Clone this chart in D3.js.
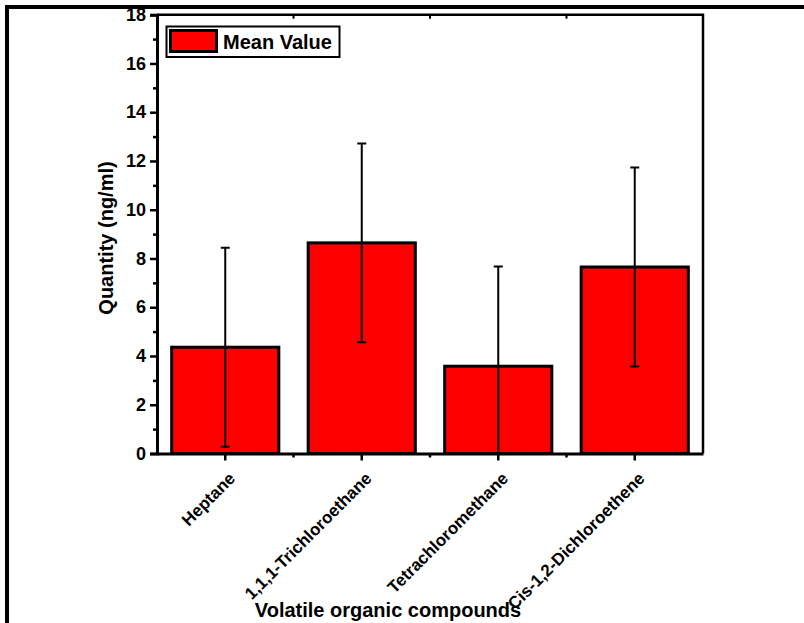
<!DOCTYPE html>
<html>
<head>
<meta charset="utf-8">
<script src="https://cdn.jsdelivr.net/npm/d3@7"></script>
<style>
  body { margin: 0; background: #fff; }
  svg text { font-family: "Liberation Sans", Arial, sans-serif; font-weight: bold; fill: #000; }
</style>
</head>
<body>
<div class="chart"></div>
<script>
// Données
const compounds = ['Heptane', '1,1,1-Trichloroethane', 'Tetrachloromethane', 'Cis-1,2-Dichloroethene']
const meanValues = [4.36, 8.64, 3.58, 7.65]
const sdValues = [4.08, 4.08, 4.09, 4.08]
const yTicks = [0, 2, 4, 6, 8, 10, 12, 14, 16, 18]
const yMinorTicks = [1, 3, 5, 7, 9, 11, 13, 15, 17]

const data = compounds.map((name, i) => ({ name: name, mean: meanValues[i], sd: sdValues[i] }))

// Dimensions
const width = 804,
    height = 623
const plot = { left: 157, right: 703, top: 14.7, bottom: 453.5 }

const svg = d3.select('.chart')
    .append('svg')
    .attr('width', width)
    .attr('height', height)

// Cadre extérieur (haut + gauche)
svg.append('path')
    .attr('d', `M 7 ${height} V 7 H ${width}`)
    .attr('fill', 'none')
    .attr('stroke', '#000')
    .attr('stroke-width', 4)

// Echelles
const x = d3.scaleBand()
    .domain(compounds)
    .range([plot.left, plot.right])
    .paddingInner(0.215)
    .paddingOuter(0.1075)

const y = d3.scaleLinear()
    .domain([0, 18])
    .range([plot.bottom, plot.top])

// Zone de clip pour les barres d'erreur
svg.append('clipPath')
    .attr('id', 'clip')
    .append('rect')
    .attr('x', plot.left)
    .attr('y', plot.top)
    .attr('width', plot.right - plot.left)
    .attr('height', plot.bottom - plot.top)

// Barres
svg.append('g')
    .selectAll('rect')
    .data(data)
    .join('rect')
    .attr('x', d => x(d.name))
    .attr('y', d => y(d.mean))
    .attr('width', x.bandwidth())
    .attr('height', d => y(0) - y(d.mean))
    .attr('fill', '#ff0000')
    .attr('stroke', '#000')
    .attr('stroke-width', 3)

// Barres d'erreur
const cx = d => x(d.name) + x.bandwidth() / 2
const err = svg.append('g').attr('clip-path', 'url(#clip)')
err.selectAll('.err-line')
    .data(data)
    .join('line')
    .attr('x1', cx)
    .attr('x2', cx)
    .attr('y1', d => y(d.mean + d.sd))
    .attr('y2', d => y(d.mean - d.sd))
    .attr('stroke', '#000')
    .attr('stroke-width', 2)
err.selectAll('.cap-top')
    .data(data)
    .join('line')
    .attr('x1', d => cx(d) - 4.5)
    .attr('x2', d => cx(d) + 4.5)
    .attr('y1', d => y(d.mean + d.sd))
    .attr('y2', d => y(d.mean + d.sd))
    .attr('stroke', '#000')
    .attr('stroke-width', 2)
err.selectAll('.cap-bottom')
    .data(data)
    .join('line')
    .attr('x1', d => cx(d) - 4.5)
    .attr('x2', d => cx(d) + 4.5)
    .attr('y1', d => y(d.mean - d.sd))
    .attr('y2', d => y(d.mean - d.sd))
    .attr('stroke', '#000')
    .attr('stroke-width', 2)

// Cadre du graphe (haut + droite)
svg.append('path')
    .attr('d', `M ${plot.left} ${plot.top} H ${plot.right} V ${plot.bottom}`)
    .attr('fill', 'none')
    .attr('stroke', '#000')
    .attr('stroke-width', 2.5)

// Graduations secondaires en x (entre les catégories)
const minorX = compounds.slice(1).map(c => x(c) - x.step() * x.paddingInner() / 2)

// Petites graduations en haut
svg.append('g')
    .selectAll('line')
    .data(minorX)
    .join('line')
    .attr('x1', d => d)
    .attr('x2', d => d)
    .attr('y1', plot.top)
    .attr('y2', plot.top + 4)
    .attr('stroke', '#000')
    .attr('stroke-width', 2)

// Axe Y
const yAxis = svg.append('g')
    .attr('transform', `translate(${plot.left}, 0)`)
    .call(d3.axisLeft(y).tickValues(yTicks).tickSize(7).tickPadding(4))
yAxis.select('.domain').attr('stroke-width', 3)
yAxis.selectAll('.tick line').attr('stroke-width', 2.5)
yAxis.selectAll('.tick text').style('font-size', '18px')

svg.append('g')
    .attr('transform', `translate(${plot.left}, 0)`)
    .call(d3.axisLeft(y).tickValues(yMinorTicks).tickSize(4).tickFormat(''))
    .call(g => g.select('.domain').remove())
    .selectAll('.tick line').attr('stroke-width', 2.5)

// Axe X
const xAxis = svg.append('g')
    .attr('transform', `translate(0, ${plot.bottom})`)
    .call(d3.axisBottom(x).tickSize(7).tickSizeOuter(0))
xAxis.select('.domain').attr('stroke-width', 3)
xAxis.selectAll('.tick line').attr('stroke-width', 2.5)
xAxis.selectAll('.tick text')
    .style('font-size', '17px')
    .attr('text-anchor', 'end')
    .attr('dy', null)
    .attr('y', 0)
    .attr('transform', 'translate(11, 26) rotate(-45)')

svg.append('g')
    .selectAll('line')
    .data(minorX)
    .join('line')
    .attr('x1', d => d)
    .attr('x2', d => d)
    .attr('y1', plot.bottom)
    .attr('y2', plot.bottom + 4)
    .attr('stroke', '#000')
    .attr('stroke-width', 2.5)

// Titres des axes
svg.append('text')
    .attr('transform', `translate(113, 238) rotate(-90)`)
    .attr('text-anchor', 'middle')
    .style('font-size', '20px')
    .text('Quantity (ng/ml)')

svg.append('text')
    .attr('x', 388)
    .attr('y', 617)
    .attr('text-anchor', 'middle')
    .style('font-size', '20px')
    .text('Volatile organic compounds')

// Légende
const legend = svg.append('g')
legend.append('rect')
    .attr('x', 166.5)
    .attr('y', 26.5)
    .attr('width', 173)
    .attr('height', 30.5)
    .attr('fill', '#fff')
    .attr('stroke', '#000')
    .attr('stroke-width', 2)
legend.append('rect')
    .attr('x', 170.5)
    .attr('y', 30.5)
    .attr('width', 46)
    .attr('height', 21)
    .attr('fill', '#ff0000')
    .attr('stroke', '#000')
    .attr('stroke-width', 3)
legend.append('text')
    .attr('x', 223)
    .attr('y', 48.5)
    .style('font-size', '20px')
    .text('Mean Value')
</script>
</body>
</html>
